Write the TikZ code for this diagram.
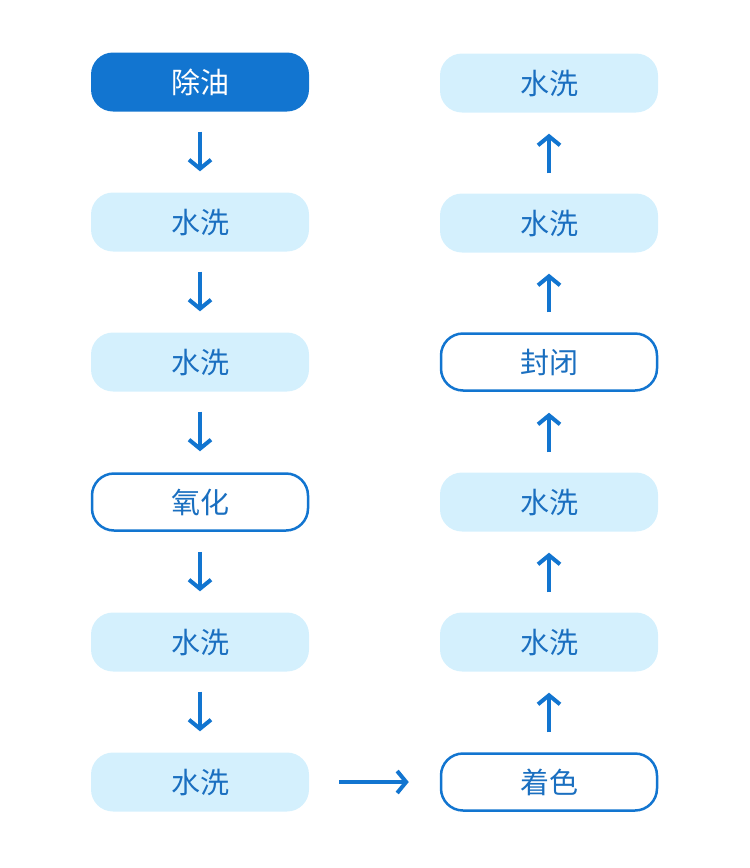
\documentclass[tikz,border=0pt]{standalone}
\usepackage{fontspec}
\setmainfont{Noto Sans CJK SC}
\usetikzlibrary{arrows.meta}
\definecolor{dblue}{HTML}{1275D0}
\definecolor{lblue}{HTML}{D4F0FD}
\definecolor{tblue}{HTML}{1A6FC0}
\begin{document}
\begin{tikzpicture}[x=1pt,y=-1pt,
  box/.style={minimum width=218pt,minimum height=59pt,rounded corners=22pt,inner sep=0pt,font=\fontsize{29}{30}\selectfont,text=tblue},
  darkbox/.style={box,fill=dblue,text=white},
  lightbox/.style={box,fill=lblue},
  outbox/.style={box,draw=dblue,line width=2.5pt,fill=white,minimum width=216pt,minimum height=57pt},
  arr/.style={draw=dblue,line width=4pt,-{Straight Barb[length=9pt,width=22pt,line width=4pt]},shorten <=20pt,shorten >=21pt}]
\useasboundingbox (0,0) rectangle (750,868);
\node[darkbox] (l1) at (200,82) {除油};
\node[lightbox] (l2) at (200,222) {水洗};
\node[lightbox] (l3) at (200,362) {水洗};
\node[outbox] (l4) at (200,502) {氧化};
\node[lightbox] (l5) at (200,642) {水洗};
\node[lightbox] (l6) at (200,782) {水洗};
\node[lightbox] (r1) at (549,83) {水洗};
\node[lightbox] (r2) at (549,223) {水洗};
\node[outbox] (r3) at (549,362) {封闭};
\node[lightbox] (r4) at (549,502) {水洗};
\node[lightbox] (r5) at (549,642) {水洗};
\node[outbox] (r6) at (549,782) {着色};
\draw[arr] (l1) -- (l2);
\draw[arr] (l2) -- (l3);
\draw[arr] (l3) -- (l4);
\draw[arr] (l4) -- (l5);
\draw[arr] (l5) -- (l6);
\draw[arr] (r6) -- (r5);
\draw[arr] (r5) -- (r4);
\draw[arr] (r4) -- (r3);
\draw[arr] (r3) -- (r2);
\draw[arr] (r2) -- (r1);
\draw[arr,shorten <=30pt,shorten >=31pt] (l6) -- (r6);
\end{tikzpicture}
\end{document}
